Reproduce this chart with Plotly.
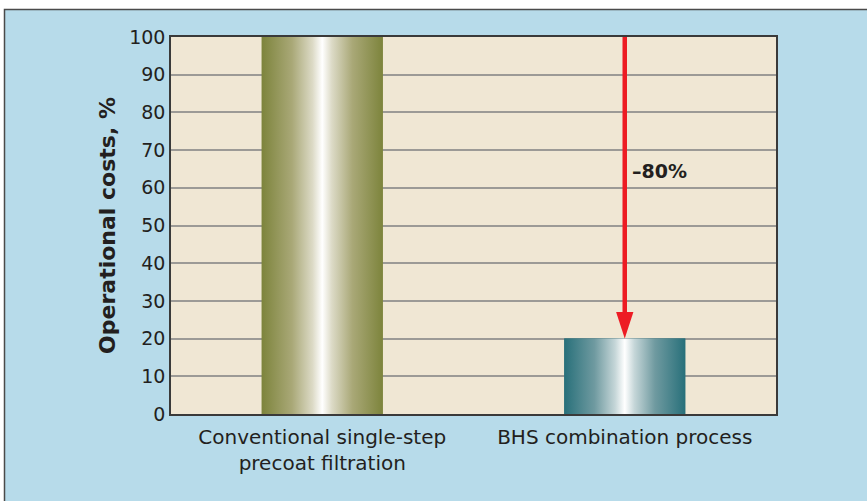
import plotly.graph_objects as go

# ---- data ----
categories = ["Conventional single-step<br>precoat filtration", "BHS combination process"]
values = [100, 20]
reduction_label = "–80%"
y_ticks = [0, 10, 20, 30, 40, 50, 60, 70, 80, 90, 100]
y_title = "Operational costs, %"

# ---- styles ----
W, H = 867, 501
L, R, T, B = 171, 91, 37, 87
BAR_W = 0.4
FONT = "DejaVu Sans, Liberation Sans, Arial, sans-serif"
TXT = "#231f20"
edge_colors = ["#7d843c", "#28707a"]
scales = [
    [[0, "#7d843c"], [0.25, "#a9a877"], [0.42, "#dcdac6"], [0.5, "#ffffff"],
     [0.58, "#dcdac6"], [0.75, "#a9a877"], [1, "#7d843c"]],
    [[0, "#28707a"], [0.25, "#6f9aa0"], [0.42, "#c5d6d8"], [0.5, "#ffffff"],
     [0.58, "#c5d6d8"], [0.75, "#6f9aa0"], [1, "#28707a"]],
]

xpos = list(range(len(categories)))

fig = go.Figure()
fig.add_trace(go.Bar(x=xpos, y=values, width=BAR_W, marker=dict(color=edge_colors, line=dict(width=0)),
                     showlegend=False, hoverinfo="skip"))
for i, v in enumerate(values):
    c = xpos[i]
    fig.add_trace(go.Scatter(
        x=[c - BAR_W / 2, c - BAR_W / 2, c + BAR_W / 2, c + BAR_W / 2, c - BAR_W / 2],
        y=[0, v, v, 0, 0], mode="lines", line=dict(width=0), fill="toself",
        fillgradient=dict(type="horizontal", colorscale=scales[i]),
        showlegend=False, hoverinfo="skip"))

# reduction arrow from first bar level down to second bar level
fig.add_trace(go.Scatter(x=[xpos[1], xpos[1]], y=[values[0], values[1] + 3], mode="lines",
                         line=dict(color="#ed1c24", width=4.5), showlegend=False, hoverinfo="skip"))
fig.add_trace(go.Scatter(x=[xpos[1]], y=[values[1]], mode="markers",
                         marker=dict(symbol="arrow", angle=180, size=28, color="#ed1c24",
                                     line=dict(width=0)),
                         showlegend=False, hoverinfo="skip"))

fig.add_annotation(x=xpos[1], y=(values[0] + values[1]) / 2 + 4.5, xref="x", yref="y",
                   text="<b>" + reduction_label + "</b>", showarrow=False,
                   xanchor="left", xshift=5, font=dict(family=FONT, size=19, color=TXT))

def px_x(p):
    return (p - L) / (W - L - R)

def px_y(p):
    return (H - B - p) / (H - T - B)

# outer frame: white strips on top and left, dark border line
fig.add_shape(type="rect", xref="paper", yref="paper", x0=-0.5, x1=1.5, y0=px_y(9.5), y1=px_y(-20),
              fillcolor="white", line=dict(width=0), layer="above")
fig.add_shape(type="rect", xref="paper", yref="paper", x0=px_x(-20), x1=px_x(4.5), y0=-0.5, y1=1.5,
              fillcolor="white", line=dict(width=0), layer="above")
fig.add_shape(type="rect", xref="paper", yref="paper", x0=px_x(4.5), x1=1.5, y0=-0.5, y1=px_y(9.5),
              fillcolor="rgba(0,0,0,0)", line=dict(color="#4a4a4a", width=1.5), layer="above")

fig.update_layout(
    width=W, height=H,
    margin=dict(l=L, r=R, t=T, b=B, autoexpand=False),
    paper_bgcolor="#b7dbea", plot_bgcolor="#f0e7d4",
    font=dict(family=FONT, size=19, color=TXT),
    showlegend=False,
    xaxis=dict(range=[-0.5, 1.5], tickvals=xpos, ticktext=categories, showgrid=False, zeroline=False,
               showline=True, linecolor="#3a3a3a", linewidth=1.5, mirror=True, ticks="",
               tickfont=dict(size=20), ticklabelstandoff=4, fixedrange=True),
    yaxis=dict(range=[0, 100], tickvals=y_ticks, showgrid=True, gridcolor="#9c9a96", gridwidth=1.5,
               zeroline=False, showline=True, linecolor="#3a3a3a", linewidth=1.5, mirror=True,
               ticks="", tickfont=dict(size=19), fixedrange=True,
               title=dict(text="<b>" + y_title + "</b>", font=dict(size=22), standoff=7),
               automargin=False),
)

fig.write_html("out.html", config={"displayModeBar": False},
               post_script="document.body.style.margin='0';")
